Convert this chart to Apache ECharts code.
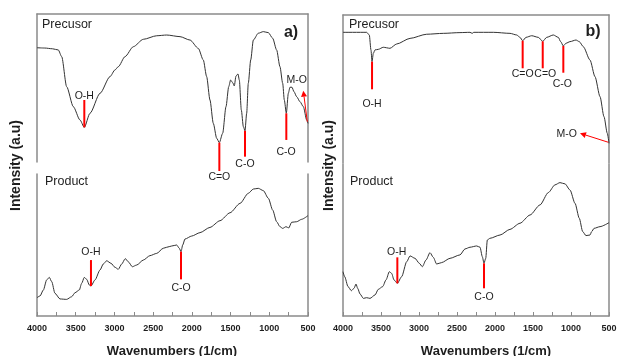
<!DOCTYPE html>
<html><head><meta charset="utf-8">
<script src="https://cdn.jsdelivr.net/npm/echarts@6/dist/echarts.min.js"></script>
<style>html,body{margin:0;padding:0;background:#fff}#c{width:619px;height:356px}</style>
</head><body><div id="c"></div>
<script>
// ---- Data (wavenumber 1/cm, intensity a.u.) ----
const precursorA = [[4000,77.2],[3900,77.0],[3800,76.5],[3725,75.7],[3681,71.2],[3617,50.9],[3531,37.4],[3445,28.4],[3389,23.4],[3316,32.9],[3186,46.4],[3057,57.7],[2993,62.2],[2950,64.4],[2863,71.2],[2756,77.9],[2627,82.9],[2454,85.3],[2325,85.8],[2153,84.7],[2024,82.4],[1917,76.8],[1852,68.9],[1809,57.7],[1766,41.9],[1723,26.1],[1679,16.0],[1645,13.1],[1602,19.4],[1559,37.4],[1524,50.9],[1499,55.4],[1473,53.6],[1452,51.4],[1430,58.1],[1404,59.5],[1387,55.4],[1361,35.1],[1335,23.9],[1314,21.1],[1292,32.9],[1271,53.2],[1240,68.9],[1206,82.4],[1142,87.0],[1077,88.1],[1012,87.4],[956,83.6],[905,75.7],[862,64.4],[827,53.2],[806,41.9],[780,32.9],[754,46.4],[733,50.5],[707,50.5],[681,47.5],[646,44.1],[603,40.7],[560,37.4],[517,28.4],[500,26.1]];
const productA = [[4000,12.9],[3961,14.1],[3918,18.3],[3875,25.4],[3841,27.2],[3810,24.2],[3768,16.0],[3703,12.0],[3617,11.7],[3552,13.6],[3509,16.4],[3454,18.3],[3423,23.0],[3389,27.2],[3358,25.8],[3324,21.8],[3303,21.1],[3251,25.4],[3186,32.4],[3144,36.6],[3100,38.9],[3044,37.1],[2993,34.3],[2950,32.9],[2906,36.6],[2860,40.4],[2821,38.2],[2769,34.7],[2712,35.9],[2627,39.4],[2541,42.5],[2454,44.1],[2369,47.7],[2325,48.4],[2260,49.3],[2196,50.0],[2162,47.7],[2140,45.3],[2118,50.0],[2089,54.2],[2002,56.3],[1895,58.7],[1766,62.4],[1637,67.1],[1507,72.7],[1378,79.3],[1271,86.4],[1206,89.4],[1142,89.9],[1077,88.3],[1012,82.9],[956,74.6],[905,66.4],[862,62.9],[827,61.7],[784,62.9],[749,62.0],[711,66.0],[646,66.4],[582,68.1],[500,70.7]];
const precursorB = [[4000,88.3],[3689,88.3],[3654,86.5],[3632,76.4],[3618,68.5],[3601,74.1],[3579,76.4],[3535,76.8],[3470,78.2],[3382,77.5],[3294,80.4],[3118,84.2],[2899,87.0],[2680,87.6],[2461,88.1],[2329,88.3],[2300,87.6],[2280,88.3],[2022,88.3],[1803,87.6],[1715,86.5],[1671,84.9],[1636,82.6],[1592,84.9],[1517,86.0],[1430,84.9],[1372,82.2],[1320,84.9],[1233,86.5],[1167,84.9],[1136,82.0],[1101,79.1],[1066,80.9],[1013,82.0],[934,83.1],[891,82.0],[838,78.6],[750,69.6],[684,58.3],[618,44.8],[566,31.3],[522,20.0],[500,13.3]];
const productB = [[4000,31.2],[3978,27.7],[3934,20.7],[3890,17.8],[3855,19.5],[3829,22.5],[3807,19.5],[3776,15.5],[3732,12.4],[3689,12.9],[3645,12.4],[3579,14.8],[3535,18.8],[3478,20.7],[3434,25.4],[3390,31.2],[3360,30.0],[3329,25.4],[3285,23.0],[3228,27.7],[3162,38.2],[3118,42.3],[3053,40.6],[2996,37.1],[2956,34.7],[2908,39.4],[2855,44.6],[2812,41.3],[2768,36.6],[2702,37.6],[2592,40.6],[2461,43.0],[2395,47.2],[2329,48.4],[2241,49.3],[2197,48.4],[2167,41.8],[2145,37.1],[2122,40.6],[2101,53.5],[2066,54.7],[1934,57.0],[1803,61.0],[1671,65.3],[1539,71.1],[1408,78.2],[1298,86.9],[1211,92.3],[1145,93.9],[1079,93.0],[1013,88.7],[947,79.3],[891,68.8],[846,59.4],[803,56.6],[750,57.0],[728,59.4],[697,61.7],[618,62.9],[500,65.7]];

// peak markers: [wavenumber, from, to]
const peaksPrecursorA = [[3389,41.9,23.4],[1645,13.1,-6.1],[1314,21.1,3.6],[780,32.9,14.9]];
const peaksProductA = [[3303,39.4,21.1],[2140,45.3,25.8]];
const peaksPrecursorB = [[3618,68.5,49.8],[1636,82.6,64.0],[1372,82.2,64.0],[1101,79.1,61.0]];
const peaksProductB = [[3285,41.3,23.0],[2145,37.1,19.5]];
// annotation labels: [wavenumber, intensity, text]
const labelsPrecursorA = [[3389,44.8,'O-H'],[1645,-9.9,'C=O'],[1314,-1.6,'C-O'],[784,7.0,'C-O'],[646,55.4,'M-O']];
const labelsProductA = [[3303,45.3,'O-H'],[2140,19.9,'C-O']];
const labelsPrecursorB = [[3618,39.7,'O-H'],[1636,60.1,'C=O'],[1338,60.1,'C=O'],[1115,53.2,'C-O'],[1057,19.6,'M-O']];
const labelsProductB = [[3293,45.3,'O-H'],[2145,13.6,'C-O']];
// arrows: [fromW, fromV, tipW, tipV]
const arrowsA = [[509,27.2,561,48.2]];
const arrowsB = [[509,14.0,882,20.1]];

const xTicks = {min:500, max:4000, interval:500};

const FONT = '"Liberation Sans", Arial, sans-serif';
const RED = '#ff0000';
const FRAME = '#8a8a8a';
const TXT = '#1e1e1e';

const grids = [
  {left:37, top:14, width:271, height:148},
  {left:37, top:174, width:271, height:142},
  {left:343, top:15, width:266, height:148},
  {left:343, top:164, width:266, height:152}
];
const yMax = [100,100,100,107];
const spectra = [precursorA, productA, precursorB, productB];
const peaks = [peaksPrecursorA, peaksProductA, peaksPrecursorB, peaksProductB];
const labels = [labelsPrecursorA, labelsProductA, labelsPrecursorB, labelsProductB];
const arrows = [arrowsA, [], arrowsB, []];

const xAxis = [], yAxis = [], series = [];
grids.forEach((g, i) => {
  const bottom = i % 2 === 1;
  xAxis.push({
    gridIndex:i, type:'value', min:xTicks.min, max:xTicks.max, interval:xTicks.interval, inverse:true,
    position: bottom ? 'bottom' : 'top',
    axisLine:{show:true, onZero:false, lineStyle:{color:FRAME, width:1.5}},
    axisTick:{show:bottom, inside:true, length:4, lineStyle:{color:FRAME, width:1}},
    minorTick:{show:bottom, splitNumber:2, length:4, lineStyle:{color:FRAME, width:1}},
    axisLabel:{show:bottom, margin:8, color:TXT, fontSize:9, fontWeight:'bold', fontFamily:FONT, formatter:v => String(v)},
    splitLine:{show:false}
  });
  ['left','right'].forEach(pos => {
    yAxis.push({
      gridIndex:i, type:'value', min:0, max:yMax[i], position:pos,
      axisLine:{show:true, onZero:false, lineStyle:{color:FRAME, width:1.5}},
      axisTick:{show:false}, axisLabel:{show:false}, splitLine:{show:false}
    });
  });
  series.push({
    type:'line', xAxisIndex:i, yAxisIndex:2*i, data:spectra[i], symbol:'none', showSymbol:false,
    smooth:0.25, smoothMonotone:'x', lineStyle:{color:'#333', width:1}, silent:true, z:3
  });
  const pk = peaks[i];
  series.push({
    type:'custom', xAxisIndex:i, yAxisIndex:2*i, data:pk, clip:false, silent:true, z:5,
    encode:{x:0, y:[1,2]},
    renderItem:(params, api) => {
      const r = pk[params.dataIndex];
      const p1 = api.coord([r[0], r[1]]), p2 = api.coord([r[0], r[2]]);
      return {type:'line', shape:{x1:p1[0], y1:p1[1], x2:p2[0], y2:p2[1]}, style:{stroke:RED, lineWidth:2}};
    }
  });
  const lb = labels[i];
  series.push({
    type:'custom', xAxisIndex:i, yAxisIndex:2*i, data:lb.map(r => [r[0], r[1]]), clip:false, silent:true, z:6,
    encode:{x:0, y:1},
    renderItem:(params, api) => {
      const r = lb[params.dataIndex];
      const p = api.coord([r[0], r[1]]);
      return {type:'text', x:p[0], y:p[1], style:{text:r[2], fill:TXT, font:'10.5px ' + FONT, align:'center', verticalAlign:'middle'}};
    }
  });
  const ar = arrows[i];
  if (ar.length) {
    series.push({
      type:'custom', xAxisIndex:i, yAxisIndex:2*i, data:ar, clip:false, silent:true, z:6,
      encode:{x:[0,2], y:[1,3]},
      renderItem:(params, api) => {
        const r = ar[params.dataIndex];
        const a = api.coord([r[0], r[1]]), b = api.coord([r[2], r[3]]);
        const ang = Math.atan2(b[1]-a[1], b[0]-a[0]);
        const L = 6, W = 3;
        const bx = b[0] - L*Math.cos(ang), by = b[1] - L*Math.sin(ang);
        const nx = -Math.sin(ang)*W, ny = Math.cos(ang)*W;
        return {type:'group', children:[
          {type:'line', shape:{x1:a[0], y1:a[1], x2:bx, y2:by}, style:{stroke:RED, lineWidth:1}},
          {type:'polygon', shape:{points:[[b[0],b[1]],[bx+nx,by+ny],[bx-nx,by-ny]]}, style:{fill:RED}}
        ]};
      }
    });
  }
});

const txt = (text, x, y, font, extra) => Object.assign({type:'text', x, y, style:{text, font, fill:TXT, align:'left', verticalAlign:'middle'}}, extra || {});
const graphic = [
  txt('Precusor', 42, 25, '12.5px ' + FONT),
  txt('Product', 45, 182, '12.5px ' + FONT),
  txt('Precusor', 349, 24.5, '12.5px ' + FONT),
  txt('Product', 350, 182, '12.5px ' + FONT),
  {type:'text', x:291, y:33, style:{text:'a)', font:'bold 16px ' + FONT, fill:TXT, align:'center', verticalAlign:'middle'}},
  {type:'text', x:593, y:32, style:{text:'b)', font:'bold 16px ' + FONT, fill:TXT, align:'center', verticalAlign:'middle'}},
  {type:'text', x:16, y:165.5, rotation:Math.PI/2, style:{text:'Intensity (a.u)', font:'bold 14px ' + FONT, fill:TXT, align:'center', verticalAlign:'middle'}},
  {type:'text', x:329, y:165.5, rotation:Math.PI/2, style:{text:'Intensity (a.u)', font:'bold 14px ' + FONT, fill:TXT, align:'center', verticalAlign:'middle'}},
  {type:'text', x:172, y:351, style:{text:'Wavenumbers (1/cm)', font:'bold 13px ' + FONT, fill:TXT, align:'center', verticalAlign:'middle'}},
  {type:'text', x:486, y:351, style:{text:'Wavenumbers (1/cm)', font:'bold 13px ' + FONT, fill:TXT, align:'center', verticalAlign:'middle'}}
];

const chart = echarts.init(document.getElementById('c'), null, {renderer:'canvas'});
chart.setOption({
  animation:false,
  backgroundColor:'#fff',
  grid: grids.map(g => Object.assign({containLabel:false, outerBoundsMode:'none'}, g)),
  xAxis, yAxis, series, graphic
});
</script>
</body></html>
